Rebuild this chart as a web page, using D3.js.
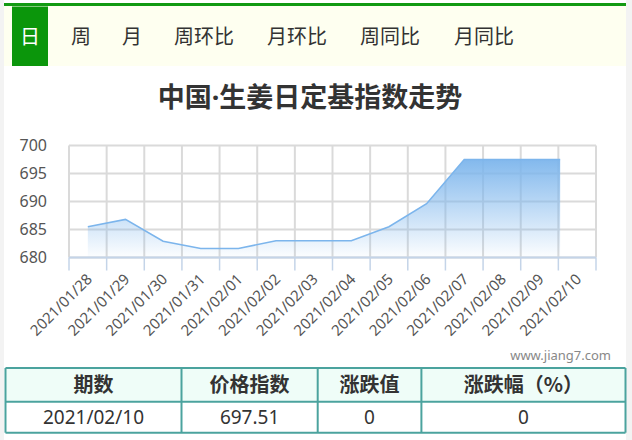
<!DOCTYPE html>
<html>
<head>
<meta charset="utf-8">
<script src="https://cdn.jsdelivr.net/npm/d3@7"></script>
<style>
  html, body { margin: 0; padding: 0; background: #f3f3f3; }
  svg { display: block; }
</style>
</head>
<body>
<svg id="chart" width="632" height="440"></svg>
<script>
// ---- data ----
const tabs = ["日", "周", "月", "周环比", "月环比", "周同比", "月同比"];
const titleParts = ["中国", "·", "生姜日定基指数走势"];
const dates = ["2021/01/28","2021/01/29","2021/01/30","2021/01/31","2021/02/01","2021/02/02","2021/02/03",
               "2021/02/04","2021/02/05","2021/02/06","2021/02/07","2021/02/08","2021/02/09","2021/02/10"];
const values = [685.5, 686.8, 682.9, 681.6, 681.6, 683.0, 683.0, 683.0, 685.5, 689.6, 697.51, 697.51, 697.51, 697.51];
const yTicks = [680, 685, 690, 695, 700];
const tableHeader = ["期数", "价格指数", "涨跌值", "涨跌幅（%）"];
const tableRow = ["2021/02/10", "697.51", "0", "0"];
const watermark = "www.jiang7.com";
const revealProgress = 0.932; // line drawing animation progress in the snapshot

const svg = d3.select("#chart");
const CJK = "'Noto Sans CJK SC', 'Noto Sans', sans-serif";
const LAT = "'Noto Sans', 'Noto Sans CJK SC', sans-serif";

// container
svg.append("rect").attr("x", 4).attr("y", 0).attr("width", 622).attr("height", 440).attr("fill", "#fff");

// ---- tab bar ----
svg.append("rect").attr("x", 4).attr("y", 6).attr("width", 622).attr("height", 60).attr("fill", "#fefff0");
svg.append("rect").attr("x", 4).attr("y", 3).attr("width", 622).attr("height", 3).attr("fill", "#129a12");
svg.append("rect").attr("x", 12).attr("y", 6.5).attr("width", 36).attr("height", 59.5).attr("fill", "#0b960b");
const tabX = [30, 81, 132, 204, 297, 390, 484];
svg.append("g").selectAll("text").data(tabs).join("text")
  .attr("x", (d, i) => tabX[i]).attr("y", 37).attr("dy", "0.36em")
  .attr("text-anchor", "middle")
  .attr("font-family", CJK).attr("font-size", 20)
  .attr("fill", (d, i) => i === 0 ? "#fff" : "#333")
  .text(d => d);

// ---- title ----
const t = svg.append("text").attr("x", 310).attr("y", 97.5).attr("dy", "0.36em")
  .attr("text-anchor", "middle").attr("font-family", CJK).attr("font-size", 27)
  .attr("font-weight", "bold").attr("fill", "#333");
t.selectAll("tspan").data(titleParts).join("tspan")
  .attr("font-family", (d, i) => i === 1 ? LAT : CJK)
  .text(d => d);

// ---- scales ----
const x = d3.scaleBand().domain(dates).range([69, 596]).padding(0);
const y = d3.scaleLinear().domain([680, 700]).range([257.5, 145.5]);

// grid
const grid = svg.append("g");
grid.selectAll("line.h").data(yTicks).join("line").attr("class", "h")
  .attr("x1", 69).attr("x2", 596).attr("y1", d => y(d)).attr("y2", d => y(d))
  .attr("stroke", "#dadada").attr("stroke-width", 2);
const edges = dates.map(d => x(d)).concat([x(dates[dates.length - 1]) + x.bandwidth()]);
grid.selectAll("line.v").data(edges).join("line").attr("class", "v")
  .attr("x1", d => d).attr("x2", d => d).attr("y1", y(700)).attr("y2", y(680))
  .attr("stroke", "#dadada").attr("stroke-width", 2);

// gradient
const defs = svg.append("defs");
const grad = defs.append("linearGradient").attr("id", "ag").attr("x1", 0).attr("y1", 0).attr("x2", 0).attr("y2", 1);
grad.append("stop").attr("offset", "0%").attr("stop-color", "#7cb5ec").attr("stop-opacity", 0.95);
grad.append("stop").attr("offset", "100%").attr("stop-color", "#7cb5ec").attr("stop-opacity", 0.02);

defs.append("clipPath").attr("id", "reveal").append("rect")
  .attr("x", 69).attr("y", 100).attr("width", (596 - 69) * revealProgress).attr("height", 200);

const cx = d => x(d) + x.bandwidth() / 2;
const pts = dates.map((d, i) => [cx(d), values[i]]);
const plot = svg.append("g").attr("clip-path", "url(#reveal)");
plot.append("path").datum(pts)
  .attr("d", d3.area().x(d => d[0]).y0(y(680)).y1(d => y(d[1])))
  .attr("fill", "url(#ag)");
plot.append("path").datum(pts)
  .attr("d", d3.line().x(d => d[0]).y(d => y(d[1])))
  .attr("fill", "none").attr("stroke", "#7cb5ec").attr("stroke-width", 1.6);

// x axis
const xAxis = svg.append("g");
xAxis.append("line").attr("x1", 69).attr("x2", 596).attr("y1", y(680)).attr("y2", y(680))
  .attr("stroke", "#c4d4e8").attr("stroke-width", 2);
xAxis.selectAll("line.t").data(edges).join("line").attr("class", "t")
  .attr("x1", d => d).attr("x2", d => d).attr("y1", y(680)).attr("y2", y(680) + 13)
  .attr("stroke", "#c4d4e8").attr("stroke-width", 1.5);
xAxis.selectAll("text").data(dates).join("text")
  .attr("transform", d => `translate(${cx(d) + 1.5},${y(680) + 19}) rotate(-45)`)
  .attr("text-anchor", "end").attr("dy", "0.35em")
  .attr("font-family", LAT).attr("font-size", 15).attr("fill", "#555")
  .text(d => d);

// y axis labels
svg.append("g").selectAll("text").data(yTicks).join("text")
  .attr("x", 47).attr("y", d => y(d)).attr("dy", "0.35em")
  .attr("text-anchor", "end").attr("font-family", LAT).attr("font-size", 16).attr("fill", "#555")
  .text(d => d);

// watermark
svg.append("text").attr("x", 611).attr("y", 355).attr("dy", "0.35em").attr("text-anchor", "end")
  .attr("font-family", LAT).attr("font-size", 13).attr("fill", "#888").text(watermark);

// ---- table ----
const colEdges = [5.5, 181.5, 317.7, 421.4, 625.5];
const rowEdges = [368, 401.7, 432.7];
const tbl = svg.append("g");
tbl.append("rect").attr("x", colEdges[0]).attr("y", rowEdges[0])
  .attr("width", colEdges[4] - colEdges[0]).attr("height", rowEdges[1] - rowEdges[0]).attr("fill", "#effdf8");
tbl.append("rect").attr("x", colEdges[0]).attr("y", rowEdges[1])
  .attr("width", colEdges[4] - colEdges[0]).attr("height", rowEdges[2] - rowEdges[1]).attr("fill", "#fff");
tbl.selectAll("line.r").data(rowEdges).join("line").attr("class", "r")
  .attr("x1", colEdges[0]).attr("x2", colEdges[4]).attr("y1", d => d).attr("y2", d => d)
  .attr("stroke", "#4ba39e").attr("stroke-width", 2);
tbl.selectAll("line.c").data(colEdges).join("line").attr("class", "c")
  .attr("x1", d => d).attr("x2", d => d).attr("y1", rowEdges[0]).attr("y2", rowEdges[2])
  .attr("stroke", "#4ba39e").attr("stroke-width", 2);
tbl.selectAll("text.h").data(tableHeader).join("text").attr("class", "h")
  .attr("x", (d, i) => (colEdges[i] + colEdges[i + 1]) / 2).attr("y", (rowEdges[0] + rowEdges[1]) / 2)
  .attr("dy", "0.36em").attr("text-anchor", "middle")
  .attr("font-family", CJK).attr("font-size", 20).attr("font-weight", "bold").attr("fill", "#333")
  .text(d => d);
tbl.selectAll("text.b").data(tableRow).join("text").attr("class", "b")
  .attr("x", (d, i) => (colEdges[i] + colEdges[i + 1]) / 2).attr("y", (rowEdges[1] + rowEdges[2]) / 2)
  .attr("dy", "0.36em").attr("text-anchor", "middle")
  .attr("font-family", LAT).attr("font-size", 19).attr("fill", "#333")
  .text(d => d);
</script>
</body>
</html>
